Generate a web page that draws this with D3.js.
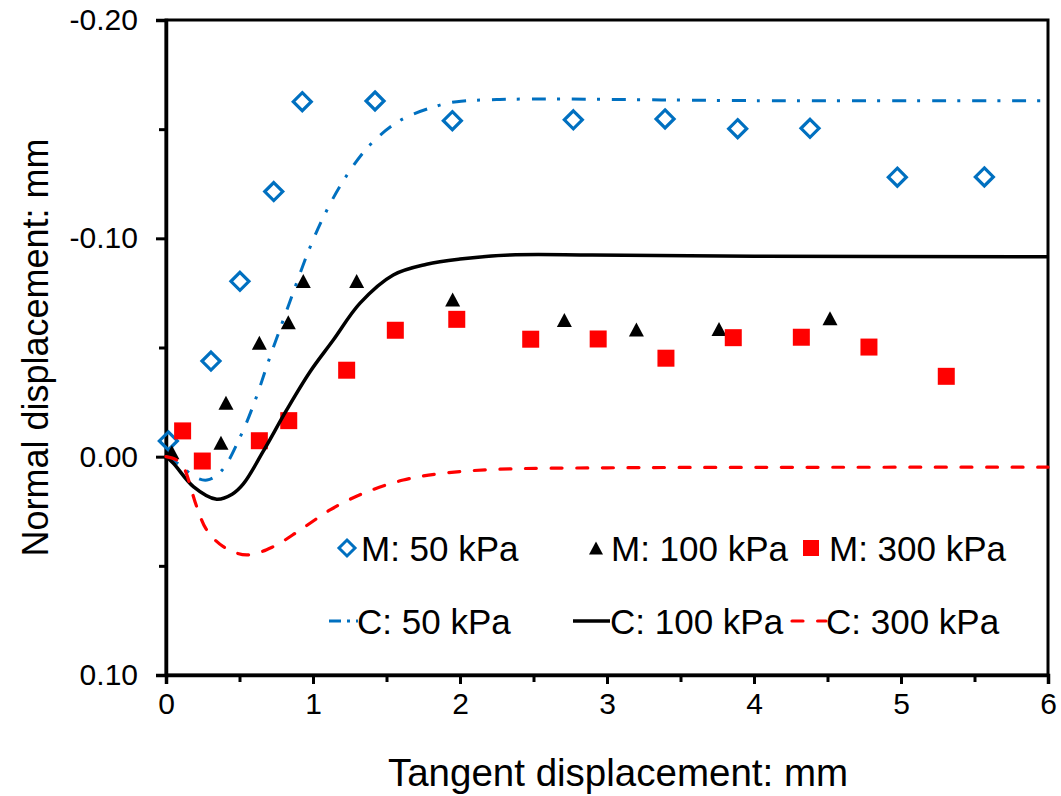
<!DOCTYPE html>
<html>
<head>
<meta charset="utf-8">
<script src="https://cdn.jsdelivr.net/npm/d3@7"></script>
<style>
  html, body { margin: 0; padding: 0; background: #fff; }
  svg { display: block; font-family: "Liberation Sans", Arial, sans-serif; }
</style>
</head>
<body>
<svg id="chart" width="1061" height="796"></svg>
<script>
// Measured points: tangent displacement (mm) vs normal displacement (mm)
const m50X  = [0.016, 0.306, 0.503, 0.733, 0.927, 1.422, 1.948, 2.771, 3.395, 3.889, 4.381, 4.975, 5.567];
const m50Y  = [-0.0072, -0.0438, -0.0803, -0.1214, -0.1626, -0.1629, -0.1539, -0.1543, -0.1547, -0.1502, -0.1504, -0.1280, -0.1281];

const m100X = [0.04, 0.374, 0.408, 0.635, 0.832, 0.934, 1.297, 1.95, 2.71, 3.20, 3.762, 4.517];
const m100Y = [-0.002, -0.0064, -0.0247, -0.0522, -0.0616, -0.0805, -0.0805, -0.0720, -0.0626, -0.0583, -0.0585, -0.0634];

const m300X = [0.113, 0.247, 0.635, 0.835, 1.229, 1.56, 1.978, 2.481, 2.94, 3.401, 3.859, 4.322, 4.782, 5.308];
const m300Y = [-0.0118, 0.002, -0.0073, -0.0165, -0.0396, -0.0579, -0.0629, -0.0538, -0.0539, -0.0451, -0.0545, -0.0547, -0.0502, -0.0368];

// Calculated curves
const c50X  = [0, 0.095, 0.197, 0.279, 0.379, 0.508, 0.61, 0.696, 0.837, 0.975, 1.086, 1.218, 1.381, 1.587, 1.841, 1.978, 2.27, 2.68, 3.22, 3.9, 6.0];
const c50Y  = [0, 0.0038, 0.0093, 0.0107, 0.0064, -0.0095, -0.0264, -0.0435, -0.0699, -0.0951, -0.1118, -0.1276, -0.1423, -0.1538, -0.1606, -0.1626, -0.1636, -0.1638, -0.1635, -0.1631, -0.1630];

const c100X = [0, 0.05, 0.186, 0.345, 0.45, 0.526, 0.662, 0.821, 0.98, 1.138, 1.32, 1.546, 1.773, 2.0, 2.34, 2.9, 4.0, 6.0];
const c100Y = [0, 0.003, 0.0137, 0.0195, 0.0172, 0.0125, -0.0025, -0.0214, -0.0389, -0.0534, -0.0703, -0.0832, -0.0881, -0.0905, -0.0924, -0.0924, -0.0918, -0.0916];

const c300X = [0, 0.073, 0.118, 0.209, 0.277, 0.39, 0.549, 0.73, 0.912, 1.116, 1.342, 1.614, 1.886, 2.25, 3.0, 4.0, 6.0];
const c300Y = [0, 0.0015, 0.0046, 0.0229, 0.0336, 0.0412, 0.045, 0.0412, 0.0336, 0.0244, 0.0168, 0.0107, 0.0076, 0.0058, 0.0051, 0.0049, 0.0048];

const xTicks = [0, 1, 2, 3, 4, 5, 6];
const xMinorTicks = [0.5, 1.5, 2.5, 3.5, 4.5, 5.5];
const yTicks = [-0.20, -0.10, 0.00, 0.10];
const yMinorTicks = [-0.15, -0.05, 0.05];

const legendLabels = ["M: 50 kPa", "M: 100 kPa", "M: 300 kPa", "C: 50 kPa", "C: 100 kPa", "C: 300 kPa"];

const blue = "#0070C0", red = "#FF0000", black = "#000000";

const svg = d3.select("#chart");
const plot = { left: 166, right: 1048, top: 20, bottom: 675 };

const x = d3.scaleLinear().domain([0, 6]).range([plot.left, plot.right]);
const y = d3.scaleLinear().domain([-0.20, 0.10]).range([plot.top, plot.bottom]);

const zip = (xs, ys) => xs.map((v, i) => [v, ys[i]]);

// Marker shapes
const diamondPath = r => `M0,${-r}L${r},0L0,${r}L${-r},0Z`;
const trianglePath = (w, h) => `M0,${-h / 2}L${w / 2},${h / 2}L${-w / 2},${h / 2}Z`;
const squarePath = s => `M${-s / 2},${-s / 2}h${s}v${s}h${-s}Z`;

// Frame
svg.append("rect")
  .attr("x", plot.left).attr("y", plot.top)
  .attr("width", plot.right - plot.left).attr("height", plot.bottom - plot.top)
  .attr("fill", "none").attr("stroke", black).attr("stroke-width", 3);

// Axes
const fontTick = 30;
const xAxis = d3.axisBottom(x).tickValues(xTicks).tickFormat(d3.format("d")).tickSize(9).tickPadding(9);
const gx = svg.append("g").attr("transform", `translate(0,${plot.bottom})`).call(xAxis);
gx.select(".domain").attr("stroke-width", 3.5);
gx.selectAll(".tick line").attr("stroke-width", 3);
gx.selectAll(".tick text").attr("font-size", fontTick).attr("font-family", "Liberation Sans, Arial, sans-serif").attr("fill", black);

const xMinor = d3.axisBottom(x).tickValues(xMinorTicks).tickFormat("").tickSize(7);
const gxm = svg.append("g").attr("transform", `translate(0,${plot.bottom})`).call(xMinor);
gxm.select(".domain").remove();
gxm.selectAll(".tick line").attr("stroke-width", 3);

const yAxis = d3.axisLeft(y).tickValues(yTicks).tickFormat(d3.format(".2f")).tickSize(10).tickPadding(18);
const gy = svg.append("g").attr("transform", `translate(${plot.left},0)`).call(yAxis);
gy.select(".domain").attr("stroke-width", 3.5);
gy.selectAll(".tick line").attr("stroke-width", 3);
gy.selectAll(".tick text").attr("font-size", fontTick).attr("font-family", "Liberation Sans, Arial, sans-serif").attr("fill", black)
  .text(d => d3.format(".2f")(d).replace("−", "-"));

const yMinor = d3.axisLeft(y).tickValues(yMinorTicks).tickFormat("").tickSize(7);
const gym = svg.append("g").attr("transform", `translate(${plot.left},0)`).call(yMinor);
gym.select(".domain").remove();
gym.selectAll(".tick line").attr("stroke-width", 3);

// Axis titles
svg.append("text")
  .attr("x", 618).attr("y", 786)
  .attr("text-anchor", "middle").attr("font-size", 38.5).attr("fill", black)
  .text("Tangent displacement: mm");

svg.append("text")
  .attr("transform", `translate(48,${(plot.top + plot.bottom) / 2}) rotate(-90)`)
  .attr("text-anchor", "middle").attr("font-size", 36).attr("fill", black)
  .text("Normal displacement: mm");

// Measured series
const gPts = svg.append("g");
gPts.selectAll(".m50").data(zip(m50X, m50Y)).join("path")
  .attr("transform", d => `translate(${x(d[0])},${y(d[1])})`)
  .attr("d", diamondPath(9)).attr("fill", "none").attr("stroke", blue).attr("stroke-width", 3.2);

gPts.selectAll(".m100").data(zip(m100X, m100Y)).join("path")
  .attr("transform", d => `translate(${x(d[0])},${y(d[1])})`)
  .attr("d", trianglePath(15, 14)).attr("fill", black);

gPts.selectAll(".m300").data(zip(m300X, m300Y)).join("path")
  .attr("transform", d => `translate(${x(d[0])},${y(d[1])})`)
  .attr("d", squarePath(17)).attr("fill", red);

// Calculated curves
const line = d3.line().x(d => x(d[0])).y(d => y(d[1])).curve(d3.curveCatmullRom.alpha(0.5));
const curves = [
  { data: zip(c50X, c50Y), color: blue, width: 3, dash: "14,11,3,12", cap: "butt" },
  { data: zip(c100X, c100Y), color: black, width: 3.5, dash: null, cap: "butt" },
  { data: zip(c300X, c300Y), color: red, width: 3.2, dash: "11,14.6", cap: "round" }
];
svg.append("g").selectAll("path").data(curves).join("path")
  .attr("d", d => line(d.data))
  .attr("fill", "none")
  .attr("stroke", d => d.color)
  .attr("stroke-width", d => d.width)
  .attr("stroke-dasharray", d => d.dash)
  .attr("stroke-linecap", d => d.cap);

// Legend
const leg = svg.append("g");
const row1 = 548, row2 = 621;
const fontLeg = 35;
const legItems = [
  { kind: "diamond", mx: 347, tx: 361, ty: row1 },
  { kind: "triangle", mx: 596, tx: 611, ty: row1 },
  { kind: "square", mx: 811, tx: 829, ty: row1 },
  { kind: "line", x1: 329, x2: 358, tx: 357, ty: row2, color: blue, dash: "12,6,3,6", width: 3, cap: "butt" },
  { kind: "line", x1: 573, x2: 610, tx: 610, ty: row2, color: black, dash: null, width: 3.5, cap: "butt" },
  { kind: "line", x1: 792, x2: 826, tx: 826, ty: row2, color: red, dash: "11,14.6", width: 3.2, cap: "round" }
];
legItems.forEach((it, i) => {
  if (it.kind === "diamond") {
    leg.append("path").attr("transform", `translate(${it.mx},${it.ty})`)
      .attr("d", diamondPath(8)).attr("fill", "none").attr("stroke", blue).attr("stroke-width", 3);
  } else if (it.kind === "triangle") {
    leg.append("path").attr("transform", `translate(${it.mx},${it.ty})`)
      .attr("d", trianglePath(14, 13)).attr("fill", black);
  } else if (it.kind === "square") {
    leg.append("path").attr("transform", `translate(${it.mx},${it.ty})`)
      .attr("d", squarePath(16)).attr("fill", red);
  } else {
    leg.append("line").attr("x1", it.x1).attr("x2", it.x2).attr("y1", it.ty).attr("y2", it.ty)
      .attr("stroke", it.color).attr("stroke-width", it.width)
      .attr("stroke-dasharray", it.dash).attr("stroke-linecap", it.cap);
  }
  leg.append("text").attr("x", it.tx).attr("y", it.ty).attr("dy", "0.36em")
    .attr("font-size", fontLeg).attr("fill", black).text(legendLabels[i]);
});
</script>
</body>
</html>
